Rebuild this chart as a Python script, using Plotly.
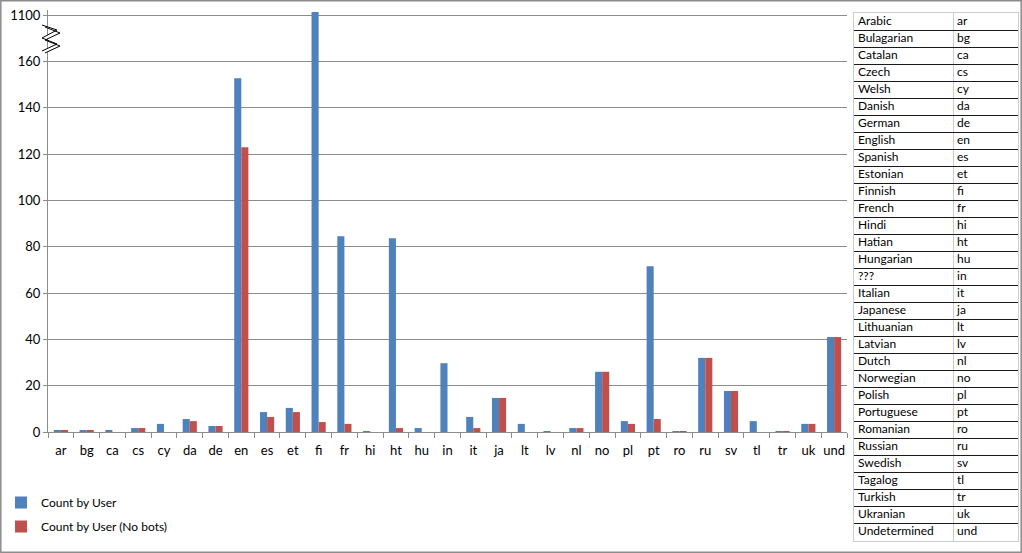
import plotly.graph_objects as go

categories = ["ar", "bg", "ca", "cs", "cy", "da", "de", "en", "es", "et", "fi", "fr", "hi", "ht", "hu",
              "in", "it", "ja", "lt", "lv", "nl", "no", "pl", "pt", "ro", "ru", "sv", "tl", "tr", "uk", "und"]
count_by_user = [0.5, 0.5, 0.5, 1.7, 3.5, 5.6, 2.6, 152.7, 8.6, 10.4, 1113, 84.5, 0.4, 83.6, 1.7,
                 29.7, 6.5, 14.7, 3.5, 0.4, 1.7, 26, 4.7, 71.6, 0.4, 32, 17.7, 4.7, 0.4, 3.5, 41]
count_no_bots = [0.5, 0.5, 0, 1.7, 0, 4.7, 2.6, 122.9, 6.5, 8.6, 4.3, 3.5, 0, 1.7, 0,
                 0, 1.7, 14.7, 0, 0, 1.7, 26, 3.5, 5.6, 0.4, 32, 17.7, 0, 0.4, 3.5, 41]
language_names = ["Arabic", "Bulagarian", "Catalan", "Czech", "Welsh", "Danish", "German", "English",
                  "Spanish", "Estonian", "Finnish", "French", "Hindi", "Hatian", "Hungarian", "???",
                  "Italian", "Japanese", "Lithuanian", "Latvian", "Dutch", "Norwegian", "Polish",
                  "Portuguese", "Romanian", "Russian", "Swedish", "Tagalog", "Turkish", "Ukranian",
                  "Undetermined"]
tick_values = [0, 20, 40, 60, 80, 100, 120, 140, 160, 1100]

# broken axis: linear up to 160, then a break; 1100 sits where 180 would be
BREAK_LOW, BREAK_HIGH, BREAK_POS, ABOVE_SCALE = 160, 1100, 180, 10.0


def to_axis(v):
    if v <= BREAK_LOW:
        return v
    return BREAK_POS + (v - BREAK_HIGH) / ABOVE_SCALE


BLUE = "#4F81BD"
RED = "#C0504D"
GRID = "#8C8C8C"
FONT = "Lato"
W, H = 1022, 553

fig = go.Figure()
fig.add_trace(go.Bar(
    x=categories, y=[to_axis(v) for v in count_by_user], name="Count by User",
    legendgroup="a",
    marker=dict(color=BLUE, line=dict(width=0)),
    customdata=count_by_user, hovertemplate="%{x}: %{customdata}<extra>Count by User</extra>"))
fig.add_trace(go.Bar(
    x=categories, y=[to_axis(v) for v in count_no_bots], name="Count by User (No bots)",
    legendgroup="b",
    marker=dict(color=RED, line=dict(width=0)),
    customdata=count_no_bots, hovertemplate="%{x}: %{customdata}<extra>Count by User (No bots)</extra>"))

# lookup table on the right, drawn as text on its own axes (row index on y)
rows = list(range(len(categories)))
fig.add_trace(go.Scatter(x=[4] * len(rows), y=rows, text=language_names, mode="text",
                         textposition="middle right", xaxis="x2", yaxis="y2", showlegend=False,
                         textfont=dict(family=FONT, size=12, color="black"), hoverinfo="skip"))
fig.add_trace(go.Scatter(x=[103] * len(rows), y=rows, text=categories, mode="text",
                         textposition="middle right", xaxis="x2", yaxis="y2", showlegend=False,
                         textfont=dict(family=FONT, size=12, color="black"), hoverinfo="skip"))

x0 = 48 / W
x1 = 847 / W
y_bottom = (H - 432) / H
y_top = (H - 10) / H

fig.update_layout(
    width=W, height=H,
    margin=dict(l=0, r=0, t=0, b=0, autoexpand=False),
    paper_bgcolor="white", plot_bgcolor="white",
    barmode="group", bargap=0.45, bargroupgap=0,
    font=dict(family=FONT, size=13, color="black"),
    showlegend=True,
    legend=dict(x=1 / W, y=(H - 488) / H, xanchor="left", yanchor="top",
                font=dict(family=FONT, size=12, color="black"),
                bgcolor="rgba(0,0,0,0)", tracegroupgap=5, itemwidth=30,
                traceorder="grouped"),
    xaxis=dict(domain=[x0, x1], showgrid=False, showline=True, linecolor=GRID, linewidth=1,
               ticks="outside", tickson="boundaries", ticklen=5, tickcolor=GRID, tickangle=0,
               tickfont=dict(family=FONT, size=13, color="black"), ticklabelstandoff=6,
               fixedrange=True),
    yaxis=dict(domain=[y_bottom, y_top], range=[0, to_axis(1113) + 0.9],
               tickvals=[to_axis(v) for v in tick_values], ticktext=[str(v) for v in tick_values],
               showgrid=True, gridcolor=GRID, gridwidth=1, zeroline=False,
               showline=True, linecolor=GRID, linewidth=1, ticks="outside", ticklen=4,
               tickcolor=GRID, tickfont=dict(family=FONT, size=13, color="black"),
               fixedrange=True),
    xaxis2=dict(domain=[854 / W, 1018 / W], range=[0, 164], anchor="y2",
                tickvals=[99], showticklabels=False, ticks="", showgrid=True,
                gridcolor="#C8CDD3", gridwidth=1, zeroline=False,
                showline=True, mirror=True, linecolor="#C8CDD3", linewidth=1, fixedrange=True),
    yaxis2=dict(domain=[(H - 541) / H, (H - 13) / H], range=[len(rows) - 0.5, -0.5], anchor="x2",
                tickvals=[r + 0.5 for r in rows[:-1]], showticklabels=False, ticks="",
                showgrid=True, gridcolor="#1A1A1A", gridwidth=1, zeroline=False,
                showline=True, mirror=True, linecolor="#C8CDD3", linewidth=1, fixedrange=True),
    shapes=[
        dict(type="rect", xref="paper", yref="paper", x0=0.0008, x1=0.9992, y0=0.0015, y1=0.9985,
             line=dict(color="#8C8C8C", width=1.5)),
        # axis break zigzag
        dict(type="path", xref="paper", yref="paper",
             path=("M {a},{p} L {b},{q} L {a},{r} L {b},{s} L {a},{t} "
                   "M {c},{p2} L {d},{q2} L {c},{r2} L {d},{s2} L {c},{t2}").format(
                 a=42 / W, b=57 / W, c=45 / W, d=60 / W,
                 p=(H - 25) / H, q=(H - 30) / H, r=(H - 38) / H, s=(H - 44) / H,
                 t=(H - 51) / H,
                 p2=(H - 27) / H, q2=(H - 33) / H, r2=(H - 40) / H,
                 s2=(H - 46) / H, t2=(H - 53) / H),
             line=dict(color="black", width=1), fillcolor="white"),
    ],
)

post = ("document.body.style.margin='0';"
        "document.documentElement.style.overflow='hidden';"
        "document.body.style.overflow='hidden';"
        "var d=document.getElementById('{plot_id}');"
        "d.style.position='fixed';d.style.top='0';d.style.left='0';")

fig.write_html("out.html", post_script=post, config={"displayModeBar": False})
